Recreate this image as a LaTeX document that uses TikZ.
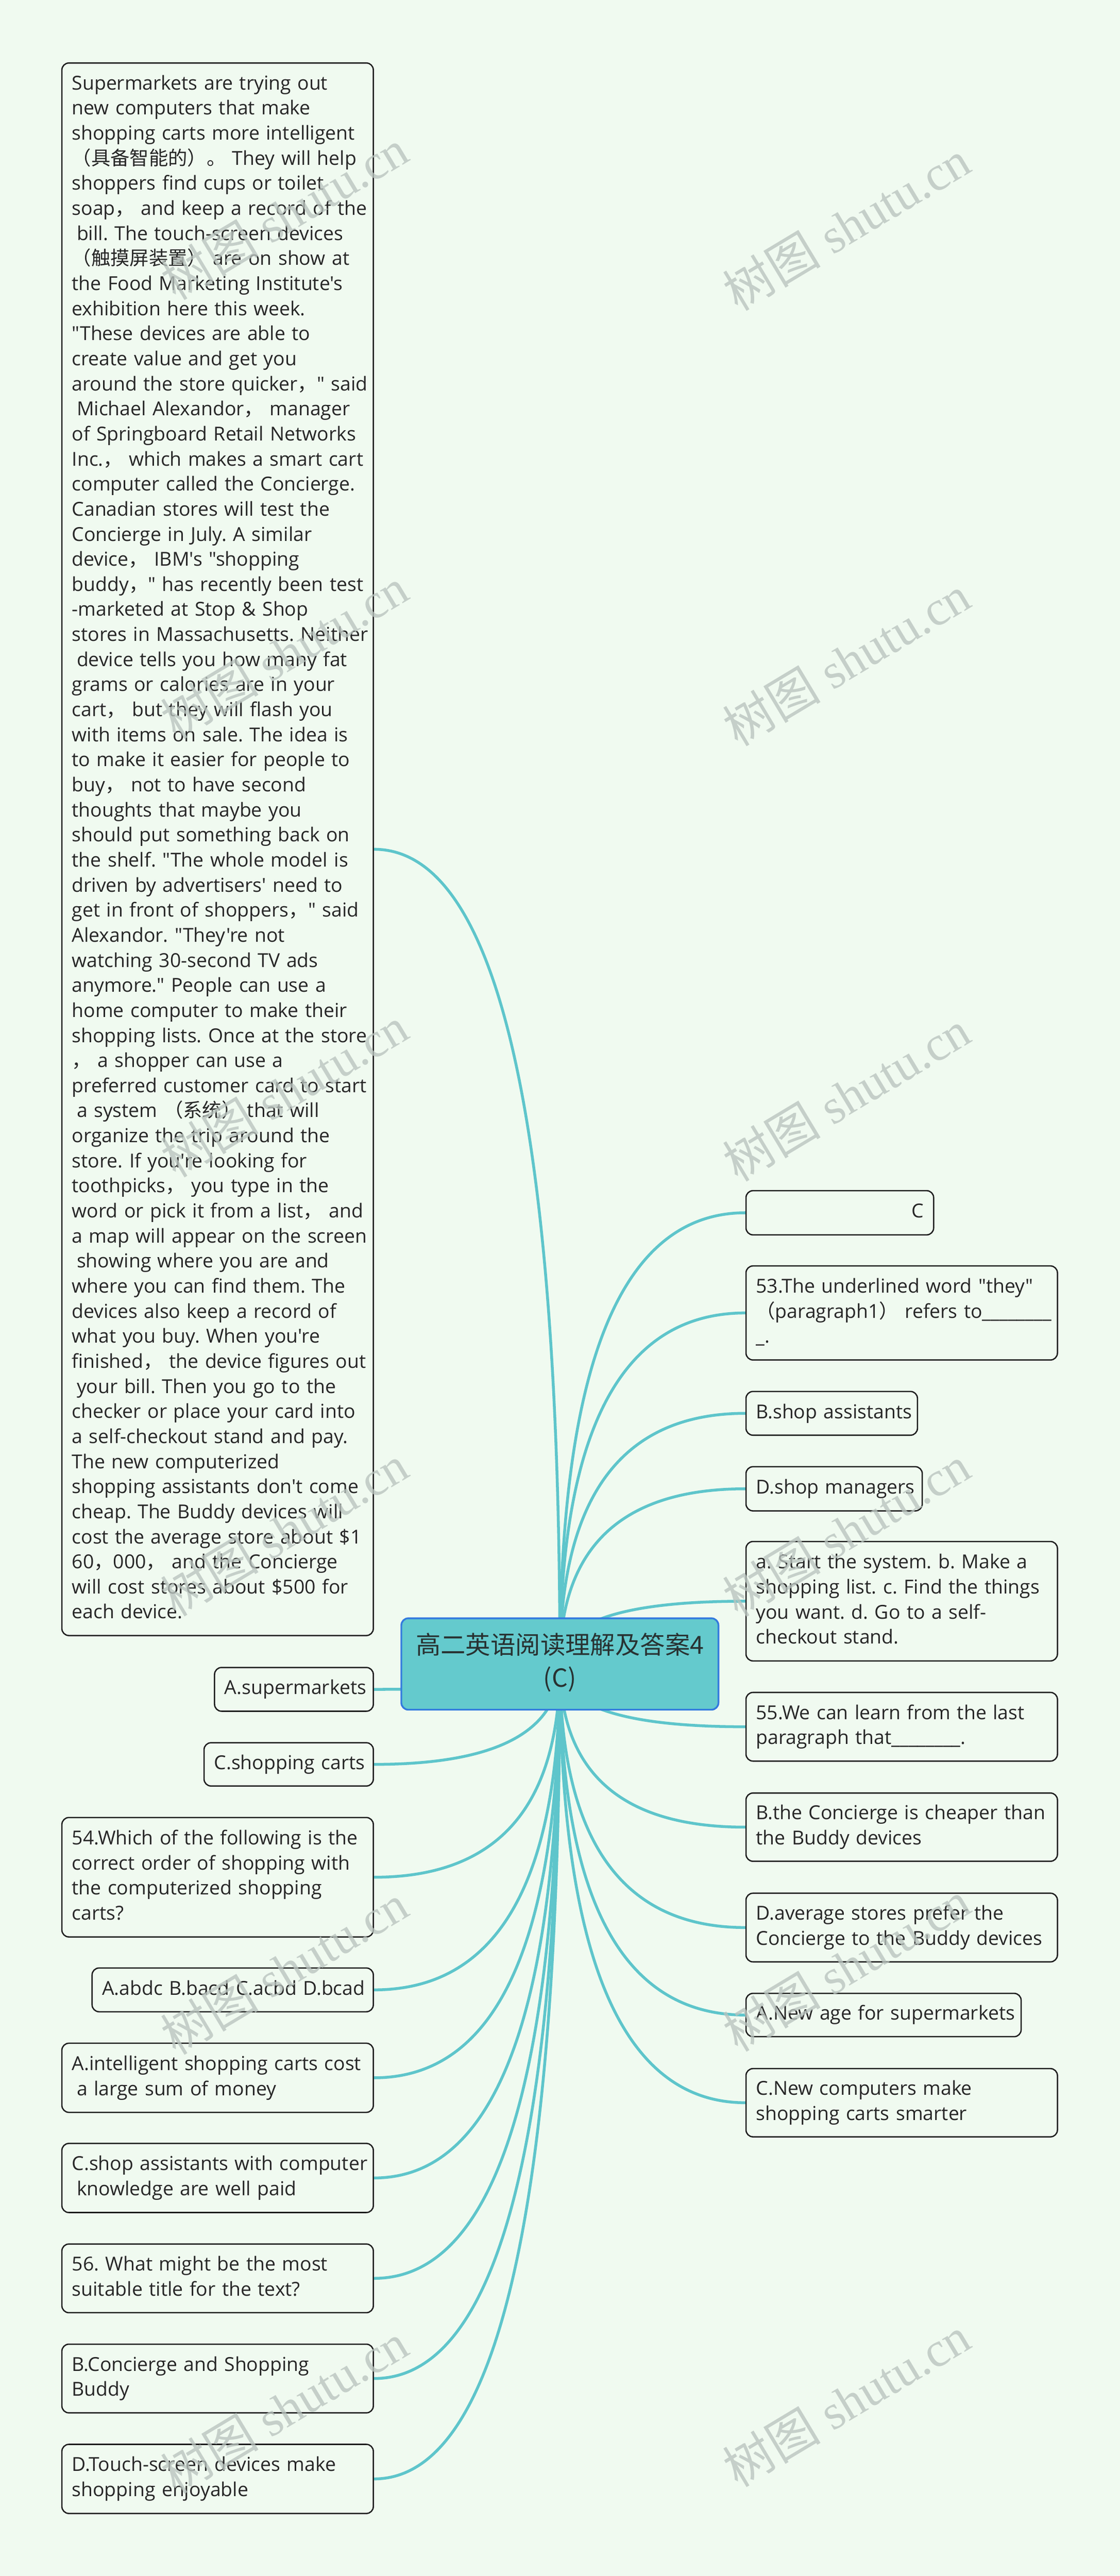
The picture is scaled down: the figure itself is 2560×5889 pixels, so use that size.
\documentclass[tikz,border=0pt]{standalone}
\usepackage{fontspec}
\newfontfamily\latf{Open Sans}
\newfontfamily\cjkf{Noto Sans CJK SC}
\newfontfamily\wmf{Liberation Serif}
\usetikzlibrary{calc}
\frenchspacing
\definecolor{bgc}{RGB}{240,250,240}
\definecolor{linec}{RGB}{94,197,203}
\definecolor{rootfill}{RGB}{100,202,205}
\definecolor{rootdraw}{RGB}{51,122,222}
\definecolor{boxc}{RGB}{30,30,30}
\definecolor{txtc}{RGB}{38,38,38}
\definecolor{roottxt}{RGB}{40,50,50}
\definecolor{wmc}{RGB}{186,196,191}
\newcommand\cj[1]{{\cjkf #1}}
\newcommand\LL[1]{\mbox{\strut#1}}
\newcommand\indsp{\hspace*{11pt}}
\newcommand\leaffont{\latf\frenchspacing\fontsize{44}{57.3}\selectfont}
\pgfdeclarelayer{background}
\pgfdeclarelayer{lines}
\pgfsetlayers{background,lines,main}
\tikzset{
  leaf/.style={draw=boxc, line width=3pt, rounded corners=16pt, fill=bgc,
    inner xsep=23pt, inner ysep=0pt, align=left, text=txtc, font=\leaffont},
  rleaf/.style={leaf, anchor=west},
  lleaf/.style={leaf, anchor=east},
  rootst/.style={draw=rootdraw, line width=4pt, rounded corners=16pt, fill=rootfill,
    text=roottxt, align=center, inner sep=0pt,
    font=\cjkf\fontsize{57}{76}\selectfont},
  conn/.style={draw=linec, line width=6.5pt},
  wmark/.style={text=wmc, opacity=0.78, rotate=31, inner sep=0pt,
    font=\wmf\fontsize{112}{112}\selectfont}
}
\begin{document}
\begin{tikzpicture}[x=1pt,y=-1pt]
\useasboundingbox (0,0) rectangle (2560,5889);
\begin{pgfonlayer}{background}
\fill[bgc] (0,0) rectangle (2560,5889);
\end{pgfonlayer}

\node[rootst, minimum width=725pt, minimum height=209pt] (root) at (1280,3804)
  {\strut 高二英语阅读理解及答案4\\\strut(C)};

% right side
\node[rleaf, align=right, text width=383pt, minimum height=101pt] (ansc) at (1704,2772.5) {\LL{C}};
\node[rleaf, text width=666pt, minimum height=215pt] (q53) at (1704,3001.5)
  {\LL{53.The underlined word "they"}\\\LL{\cj{（}paragraph1\cj{）} refers to\_\_\_\_\_\_\_\_}\\\LL{\_.}};
\node[rleaf, text width=346pt, minimum height=100pt] (bsa) at (1704,3231) {\LL{B.shop assistants}};
\node[rleaf, text width=357pt, minimum height=101pt] (dsm) at (1704,3403.5) {\LL{D.shop managers}};
\node[rleaf, text width=666pt, minimum height=273pt] (ord) at (1704,3660.5)
  {\LL{a. Start the system. b. Make a}\\\LL{shopping list. c. Find the things}\\\LL{you want. d. Go to a self-}\\\LL{checkout stand.}};
\node[rleaf, text width=666pt, minimum height=157pt] (q55) at (1704,3947.5)
  {\LL{55.We can learn from the last}\\\LL{paragraph that\_\_\_\_\_\_\_\_.}};
\node[rleaf, text width=666pt, minimum height=156pt] (bcc) at (1704,4177)
  {\LL{B.the Concierge is cheaper than}\\\LL{the Buddy devices}};
\node[rleaf, text width=666pt, minimum height=157pt] (dav) at (1704,4406.5)
  {\LL{D.average stores prefer the}\\\LL{Concierge to the Buddy devices}};
\node[rleaf, text width=583pt, minimum height=99pt] (ana) at (1704,4606.5) {\LL{A.New age for supermarkets}};
\node[rleaf, text width=666pt, minimum height=156pt] (cnc) at (1704,4807)
  {\LL{C.New computers make}\\\LL{shopping carts smarter}};

% left side
\node[lleaf, text width=666pt, minimum height=3595pt] (psg) at (855,1941.5)
  {\LL{Supermarkets are trying out}\\
   \LL{new computers that make}\\
   \LL{shopping carts more intelligent}\\
   \LL{\cj{（具备智能的）。} They will help}\\
   \LL{shoppers find cups or toilet}\\
   \LL{soap\cj{，} and keep a record of the}\\
   \LL{\indsp bill. The touch-screen devices}\\
   \LL{\cj{（触摸屏装置）} are on show at}\\
   \LL{the Food Marketing Institute's}\\
   \LL{exhibition here this week.}\\
   \LL{"These devices are able to}\\
   \LL{create value and get you}\\
   \LL{around the store quicker\cj{，}" said}\\
   \LL{\indsp Michael Alexandor\cj{，} manager}\\
   \LL{of Springboard Retail Networks}\\
   \LL{Inc.\cj{，} which makes a smart cart}\\
   \LL{computer called the Concierge.}\\
   \LL{Canadian stores will test the}\\
   \LL{Concierge in July. A similar}\\
   \LL{device\cj{，} IBM's "shopping}\\
   \LL{buddy\cj{，}" has recently been test}\\
   \LL{-marketed at Stop \& Shop}\\
   \LL{stores in Massachusetts. Neither}\\
   \LL{\indsp device tells you how many fat}\\
   \LL{grams or calories are in your}\\
   \LL{cart\cj{，} but they will flash you}\\
   \LL{with items on sale. The idea is}\\
   \LL{to make it easier for people to}\\
   \LL{buy\cj{，} not to have second}\\
   \LL{thoughts that maybe you}\\
   \LL{should put something back on}\\
   \LL{the shelf. "The whole model is}\\
   \LL{driven by advertisers' need to}\\
   \LL{get in front of shoppers\cj{，}" said}\\
   \LL{Alexandor. "They're not}\\
   \LL{watching 30-second TV ads}\\
   \LL{anymore." People can use a}\\
   \LL{home computer to make their}\\
   \LL{shopping lists. Once at the store}\\
   \LL{\cj{，} a shopper can use a}\\
   \LL{preferred customer card to start}\\
   \LL{\indsp a system \cj{（系统）} that will}\\
   \LL{organize the trip around the}\\
   \LL{store. If you're looking for}\\
   \LL{toothpicks\cj{，} you type in the}\\
   \LL{word or pick it from a list\cj{，} and}\\
   \LL{a map will appear on the screen}\\
   \LL{\indsp showing where you are and}\\
   \LL{where you can find them. The}\\
   \LL{devices also keep a record of}\\
   \LL{what you buy. When you're}\\
   \LL{finished\cj{，} the device figures out}\\
   \LL{\indsp your bill. Then you go to the}\\
   \LL{checker or place your card into}\\
   \LL{a self-checkout stand and pay.}\\
   \LL{The new computerized}\\
   \LL{shopping assistants don't come}\\
   \LL{cheap. The Buddy devices will}\\
   \LL{cost the average store about \$1}\\
   \LL{60\cj{，}000\cj{，} and the Concierge}\\
   \LL{will cost stores about \$500 for}\\
   \LL{each device.}};
\node[lleaf, text width=317pt, minimum height=100pt] (asu) at (855,3862) {\LL{A.supermarkets}};
\node[lleaf, text width=341pt, minimum height=99pt] (csc) at (855,4033.5) {\LL{C.shopping carts}};
\node[lleaf, text width=666pt, minimum height=273pt] (q54) at (855,4291.5)
  {\LL{54.Which of the following is the}\\\LL{correct order of shopping with}\\\LL{the computerized shopping}\\\LL{carts?}};
\node[lleaf, text width=597pt, minimum height=100pt] (abdc) at (855,4549) {\LL{A.abdc B.bacd C.acbd D.bcad}};
\node[lleaf, text width=666pt, minimum height=158pt] (aint) at (855,4750)
  {\LL{A.intelligent shopping carts cost}\\\LL{\indsp a large sum of money}};
\node[lleaf, text width=666pt, minimum height=158pt] (csa) at (855,4979)
  {\LL{C.shop assistants with computer}\\\LL{\indsp knowledge are well paid}};
\node[lleaf, text width=666pt, minimum height=157pt] (q56) at (855,5208.5)
  {\LL{56. What might be the most}\\\LL{suitable title for the text?}};
\node[lleaf, text width=666pt, minimum height=157pt] (bcs) at (855,5437.5)
  {\LL{B.Concierge and Shopping}\\\LL{Buddy}};
\node[lleaf, text width=666pt, minimum height=158pt] (dts) at (855,5667)
  {\LL{D.Touch-screen devices make}\\\LL{shopping enjoyable}};

\begin{pgfonlayer}{lines}
\foreach \n in {ansc,q53,bsa,dsm,ord,q55,bcc,dav,ana,cnc}{
  \draw[conn] (root.center) .. controls ($(root.center)!0.667!(root.center|-\n.west)$)
     and ($(\n.west)!0.667!(root.center|-\n.west)$) .. (\n.west);
}
\foreach \n in {psg,asu,csc,q54,abdc,aint,csa,q56,bcs,dts}{
  \draw[conn] (root.center) .. controls ($(root.center)!0.667!(root.center|-\n.east)$)
     and ($(\n.east)!0.667!(root.center|-\n.east)$) .. (\n.east);
}
\end{pgfonlayer}

% watermarks
\foreach \k/\yl/\yr in {1/490/515,2/1493/1510,3/2496/2505,4/3499/3500,5/4502/4495,6/5505/5490}{
  \node[wmark] (wml\k) at (650,\yl) {{\cjkf 树图} shutu.cn};
  \node[wmark] (wmr\k) at (1935,\yr) {{\cjkf 树图} shutu.cn};
}
\end{tikzpicture}
\end{document}
